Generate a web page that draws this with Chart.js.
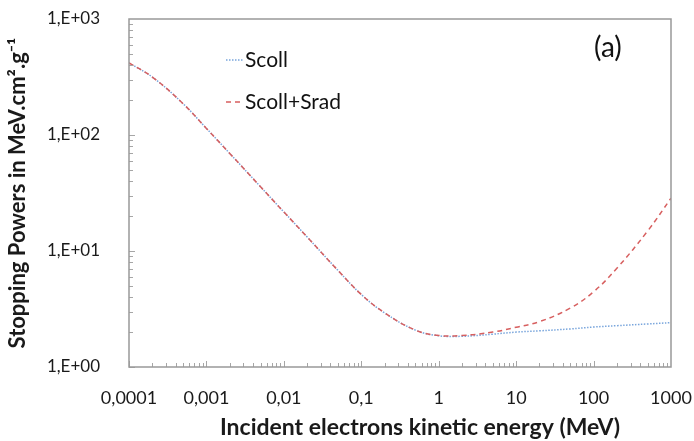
<!DOCTYPE html>
<html>
<head>
<meta charset="utf-8">
<script src="https://cdn.jsdelivr.net/npm/chart.js@4.4.1/dist/chart.umd.min.js"></script>
<style>
  html, body { margin: 0; padding: 0; background: #fff; }
  #wrap { width: 694px; height: 441px; }
</style>
</head>
<body>
<div id="wrap"><canvas id="myChart" width="694" height="441"></canvas></div>
<script>
// kinetic energy (MeV)
const energies = [0.0001, 0.0002, 0.0005, 0.001, 0.002, 0.005, 0.01, 0.02, 0.05,
    0.1, 0.2, 0.5, 1, 2, 5, 10, 20, 50, 100, 200, 500, 1000];
// collision stopping power
const scoll = [418, 316, 186, 114, 69.4, 35.8, 21.7, 13.2, 6.8,
    4.22, 2.93, 2.08, 1.86, 1.84, 1.92, 2.0, 2.05, 2.13, 2.21, 2.27, 2.35, 2.41];
// collision + radiative
const stotal = [418, 316, 186, 114, 69.4, 35.8, 21.7, 13.2, 6.8,
    4.22, 2.93, 2.08, 1.87, 1.87, 2.0, 2.2, 2.46, 3.22, 4.45, 7.1, 14.9, 28.5];

const xTickLabels = ['0,0001', '0,001', '0,01', '0,1', '1', '10', '100', '1000'];
const yTickLabels = ['1,E+00', '1,E+01', '1,E+02', '1,E+03'];
const seriesNames = ['Scoll', 'Scoll+Srad'];
const xTitle = 'Incident electrons kinetic energy (MeV)';

const FONT = 'Lato, "Open Sans", sans-serif';
const BLUE = 'rgb(120, 165, 220)';
const RED = 'rgb(215, 95, 95)';

function isDecade(v) {
    const l = Math.log10(v);
    return Math.abs(l - Math.round(l)) < 1e-9;
}

const frame = {
    id: 'frame',
    afterDraw(chart) {
        const ctx = chart.ctx;
        const a = chart.chartArea;
        const xs = chart.scales.x, ys = chart.scales.y;
        ctx.save();
        ctx.strokeStyle = '#a6a6a6';
        ctx.lineWidth = 1;
        // minor / major ticks, pointing inwards
        for (let d = -4; d < 3; d++) {
            for (let m = 1; m < 10; m++) {
                const v = m * Math.pow(10, d);
                const px = Math.round(xs.getPixelForValue(v)) + 0.5;
                const len = m === 1 ? 6 : 4;
                ctx.beginPath();
                ctx.moveTo(px, a.bottom);
                ctx.lineTo(px, a.bottom - len);
                ctx.stroke();
            }
        }
        for (let d = 0; d < 3; d++) {
            for (let m = 1; m < 10; m++) {
                const v = m * Math.pow(10, d);
                const py = Math.round(ys.getPixelForValue(v)) + 0.5;
                const len = m === 1 ? 6 : 4;
                ctx.beginPath();
                ctx.moveTo(a.left, py);
                ctx.lineTo(a.left + len, py);
                ctx.stroke();
            }
        }
        ctx.strokeStyle = '#999';
        ctx.lineWidth = 1.5;
        ctx.strokeRect(a.left, a.top, a.right - a.left, a.bottom - a.top);

        // legend
        ctx.font = '21px ' + FONT;
        ctx.fillStyle = '#111';
        ctx.textBaseline = 'middle';
        const lx = 226, ly = [60, 102];
        const styles = [{ c: BLUE, dash: [1.5, 1.5] }, { c: RED, dash: [5, 4] }];
        seriesNames.forEach((name, i) => {
            ctx.beginPath();
            ctx.setLineDash(styles[i].dash);
            ctx.strokeStyle = styles[i].c;
            ctx.lineWidth = 1.5;
            ctx.moveTo(lx, ly[i]);
            ctx.lineTo(lx + 17, ly[i]);
            ctx.stroke();
            ctx.setLineDash([]);
            ctx.fillText(name, lx + 19, ly[i]);
        });
        ctx.font = '28px ' + FONT;
        ctx.fillText('(a)', 594, 48);

        // x axis title (sits a bit right of the plot centre in the original)
        ctx.font = 'bold 23px ' + FONT;
        ctx.fillStyle = '#1a1a1a';
        ctx.textAlign = 'center';
        ctx.fillText(xTitle, 420, 428);
        ctx.restore();
    }
};

const data = {
    datasets: [
        {
            label: seriesNames[0],
            data: energies.map((e, i) => ({ x: e, y: scoll[i] })),
            borderColor: BLUE,
            borderWidth: 1.5,
            borderDash: [1.5, 1.5],
            pointRadius: 0,
            tension: 0.4,
            order: 2,
        },
        {
            label: seriesNames[1],
            data: energies.map((e, i) => ({ x: e, y: stotal[i] })),
            borderColor: RED,
            borderWidth: 1.5,
            borderDash: [5, 4],
            pointRadius: 0,
            tension: 0.4,
            order: 1,
        }
    ]
};

const config = {
    type: 'line',
    data: data,
    options: {
        responsive: false,
        animation: false,
        layout: { padding: { left: 0, right: 23, top: 19, bottom: 0 } },
        plugins: {
            legend: { display: false },
            tooltip: { enabled: false }
        },
        scales: {
            x: {
                type: 'logarithmic',
                min: 0.0001,
                max: 1000,
                grid: { display: false },
                border: { display: false },
                afterFit(scale) {
                    scale.height = 74;
                    scale.paddingLeft = 0;
                    scale.paddingRight = 0;
                },
                afterBuildTicks(scale) {
                    scale.ticks = xTickLabels.map((t, i) => ({ value: Math.pow(10, i - 4) }));
                },
                ticks: {
                    autoSkip: false,
                    maxRotation: 0,
                    padding: 12,
                    color: '#1a1a1a',
                    font: { family: FONT, size: 18 },
                    callback: (v) => isDecade(v) ? xTickLabels[Math.round(Math.log10(v)) + 4] : ''
                },
                title: { display: false }
            },
            y: {
                type: 'logarithmic',
                min: 1,
                max: 1000,
                grid: { display: false },
                border: { display: false },
                afterFit(scale) {
                    scale.width = 129;
                    scale.paddingTop = 0;
                    scale.paddingBottom = 0;
                },
                afterBuildTicks(scale) {
                    scale.ticks = yTickLabels.map((t, i) => ({ value: Math.pow(10, i) }));
                },
                ticks: {
                    autoSkip: false,
                    padding: 21,
                    color: '#1a1a1a',
                    font: { family: FONT, size: 17 },
                    callback: (v) => isDecade(v) ? yTickLabels[Math.round(Math.log10(v))] : ''
                },
                title: {
                    display: true,
                    text: 'Stopping Powers in MeV.cm\u00B2.g\u207B\u00B9',
                    color: '#1a1a1a',
                    font: { family: FONT, size: 22, weight: 'bold' },
                    padding: { top: 5, bottom: 0 }
                }
            }
        }
    },
    plugins: [frame]
};

const myChart = new Chart(
    document.getElementById('myChart'),
    config
);
</script>
</body>
</html>
